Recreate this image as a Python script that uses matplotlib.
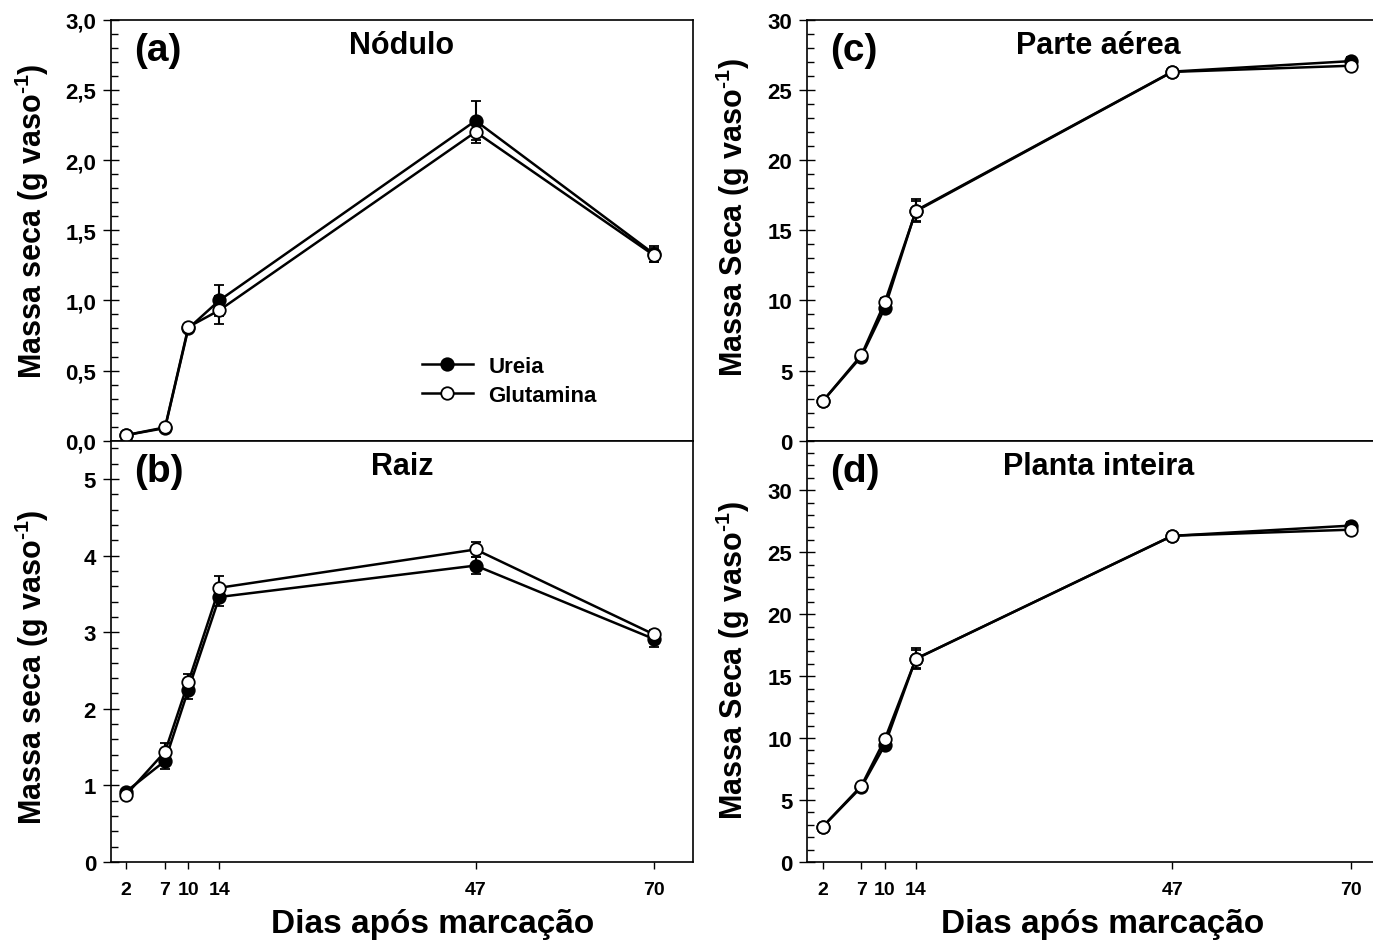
import matplotlib
matplotlib.use('Agg')
import matplotlib.pyplot as plt
from matplotlib.lines import Line2D
from matplotlib.ticker import MultipleLocator, FuncFormatter

plt.rcParams['font.family'] = ['Liberation Sans', 'DejaVu Sans']
plt.rcParams['font.weight'] = 'bold'
plt.rcParams['mathtext.fontset'] = 'custom'
plt.rcParams['mathtext.rm'] = 'Liberation Sans:bold'
plt.rcParams['mathtext.bf'] = 'Liberation Sans:bold'
plt.rcParams['mathtext.default'] = 'bf'

dias = [2, 7, 10, 14, 47, 70]

# (a) Nodulo
nod_ureia = [0.04, 0.09, 0.80, 1.00, 2.28, 1.33]
nod_ureia_err = [0.01, 0.01, 0.02, 0.11, 0.14, 0.06]
nod_glut = [0.04, 0.095, 0.81, 0.93, 2.20, 1.32]
nod_glut_err = [0.01, 0.01, 0.02, 0.10, 0.08, 0.05]

# (b) Raiz
raiz_ureia = [0.92, 1.32, 2.25, 3.46, 3.87, 2.91]
raiz_ureia_err = [0.03, 0.10, 0.12, 0.12, 0.11, 0.10]
raiz_glut = [0.88, 1.44, 2.35, 3.58, 4.08, 2.97]
raiz_glut_err = [0.03, 0.12, 0.10, 0.16, 0.10, 0.06]

# (c) Parte aerea
pa_ureia = [2.80, 6.00, 9.45, 16.40, 26.30, 27.05]
pa_ureia_err = [0.10, 0.25, 0.30, 0.85, 0.20, 0.30]
pa_glut = [2.80, 6.10, 9.85, 16.35, 26.28, 26.72]
pa_glut_err = [0.10, 0.20, 0.30, 0.70, 0.20, 0.20]

# (d) Planta inteira
pi_ureia = [2.83, 6.05, 9.43, 16.40, 26.32, 27.15]
pi_ureia_err = [0.10, 0.25, 0.30, 0.85, 0.20, 0.30]
pi_glut = [2.83, 6.15, 9.89, 16.39, 26.33, 26.82]
pi_glut_err = [0.10, 0.20, 0.30, 0.70, 0.20, 0.20]

W, H = 1373, 953
fig = plt.figure(figsize=(W / 100, H / 100), dpi=100)


def px_axes(left, top, right, bottom):
    return fig.add_axes([left / W, 1 - bottom / H, (right - left) / W, (bottom - top) / H])


ax_a = px_axes(110.7, 20.7, 693, 441.7)
ax_b = px_axes(110.7, 441.7, 693, 863)
ax_c = px_axes(807, 20.7, 1390, 441.7)
ax_d = px_axes(807, 441.7, 1390, 863)

panels = [
    (ax_a, nod_ureia, nod_ureia_err, nod_glut, nod_glut_err, '(a)', 'Nódulo', (0, 3.0), 0.5, 0.1, True),
    (ax_b, raiz_ureia, raiz_ureia_err, raiz_glut, raiz_glut_err, '(b)', 'Raiz', (0, 5.5), 1, 0.2, False),
    (ax_c, pa_ureia, pa_ureia_err, pa_glut, pa_glut_err, '(c)', 'Parte aérea', (0, 30), 5, 1, False),
    (ax_d, pi_ureia, pi_ureia_err, pi_glut, pi_glut_err, '(d)', 'Planta inteira', (0, 34), 5, 1, False),
]

mk = dict(fmt='-o', color='black', mec='black', ms=9, mew=1.3, lw=1.8,
          elinewidth=1.5, capsize=3.3, capthick=1.6, clip_on=False)

for ax, yu, eu, yg, eg, tag, title, ylim, major, minor, comma in panels:
    ax.errorbar(dias, yu, yerr=eu, mfc='black', zorder=3, **mk)
    ax.errorbar(dias, yg, yerr=eg, mfc='white', zorder=4, **mk)
    ax.set_xlim(0, 75)
    ax.set_ylim(*ylim)
    ax.yaxis.set_major_locator(MultipleLocator(major))
    ax.yaxis.set_minor_locator(MultipleLocator(minor))
    if comma:
        ax.yaxis.set_major_formatter(FuncFormatter(lambda v, p: f'{v:.1f}'.replace('.', ',')))
    else:
        ax.yaxis.set_major_formatter(FuncFormatter(lambda v, p: f'{v:.0f}'))
    ax.tick_params(axis='y', which='major', direction='inout', length=11, width=1, labelsize=16, pad=5)
    ax.tick_params(axis='y', which='minor', direction='in', length=5, width=1)
    ax.set_xticks(dias)
    ax.tick_params(axis='x', which='major', direction='out', length=5, width=1, labelsize=14, pad=9)
    for s in ax.spines.values():
        s.set_linewidth(1.2)
    ax.text(0.04, 0.905, tag, transform=ax.transAxes, fontsize=28, fontweight='bold', ha='left', va='baseline')
    ax.text(0.5, 0.922, title, transform=ax.transAxes, fontsize=22, fontweight='bold', ha='center', va='baseline')

for ax in (ax_a, ax_c):
    ax.tick_params(axis='x', bottom=False, labelbottom=False)

ylab_low = 'Massa seca (g vaso$^{\\text{-1}}$)'
ylab_up = 'Massa Seca (g vaso$^{\\text{-1}}$)'
ax_a.set_ylabel(ylab_low, fontsize=22, fontweight='bold')
ax_b.set_ylabel(ylab_low, fontsize=22, fontweight='bold')
ax_c.set_ylabel(ylab_up, fontsize=22, fontweight='bold')
ax_d.set_ylabel(ylab_up, fontsize=22, fontweight='bold')
ax_a.yaxis.set_label_coords(-0.102, 0.524)
ax_b.yaxis.set_label_coords(-0.102, 0.465)
ax_c.yaxis.set_label_coords(-0.094, 0.533)
ax_d.yaxis.set_label_coords(-0.094, 0.481)

ax_b.set_xlabel('Dias após marcação', fontsize=24, fontweight='bold')
ax_d.set_xlabel('Dias após marcação', fontsize=24, fontweight='bold')
ax_b.xaxis.set_label_coords(0.553, -0.108)
ax_d.xaxis.set_label_coords(0.507, -0.108)

handles = [
    Line2D([], [], color='black', lw=1.8, marker='o', ms=9, mew=1.3, mfc='black', mec='black'),
    Line2D([], [], color='black', lw=1.8, marker='o', ms=9, mew=1.3, mfc='white', mec='black'),
]
ax_a.legend(handles, ['Ureia', 'Glutamina'], loc='center left', bbox_to_anchor=(0.534, 0.142),
            frameon=False, fontsize=16, handlelength=2.3, handletextpad=0.7, labelspacing=0.35,
            borderpad=0, borderaxespad=0)

fig.savefig('out.png', dpi=100)
